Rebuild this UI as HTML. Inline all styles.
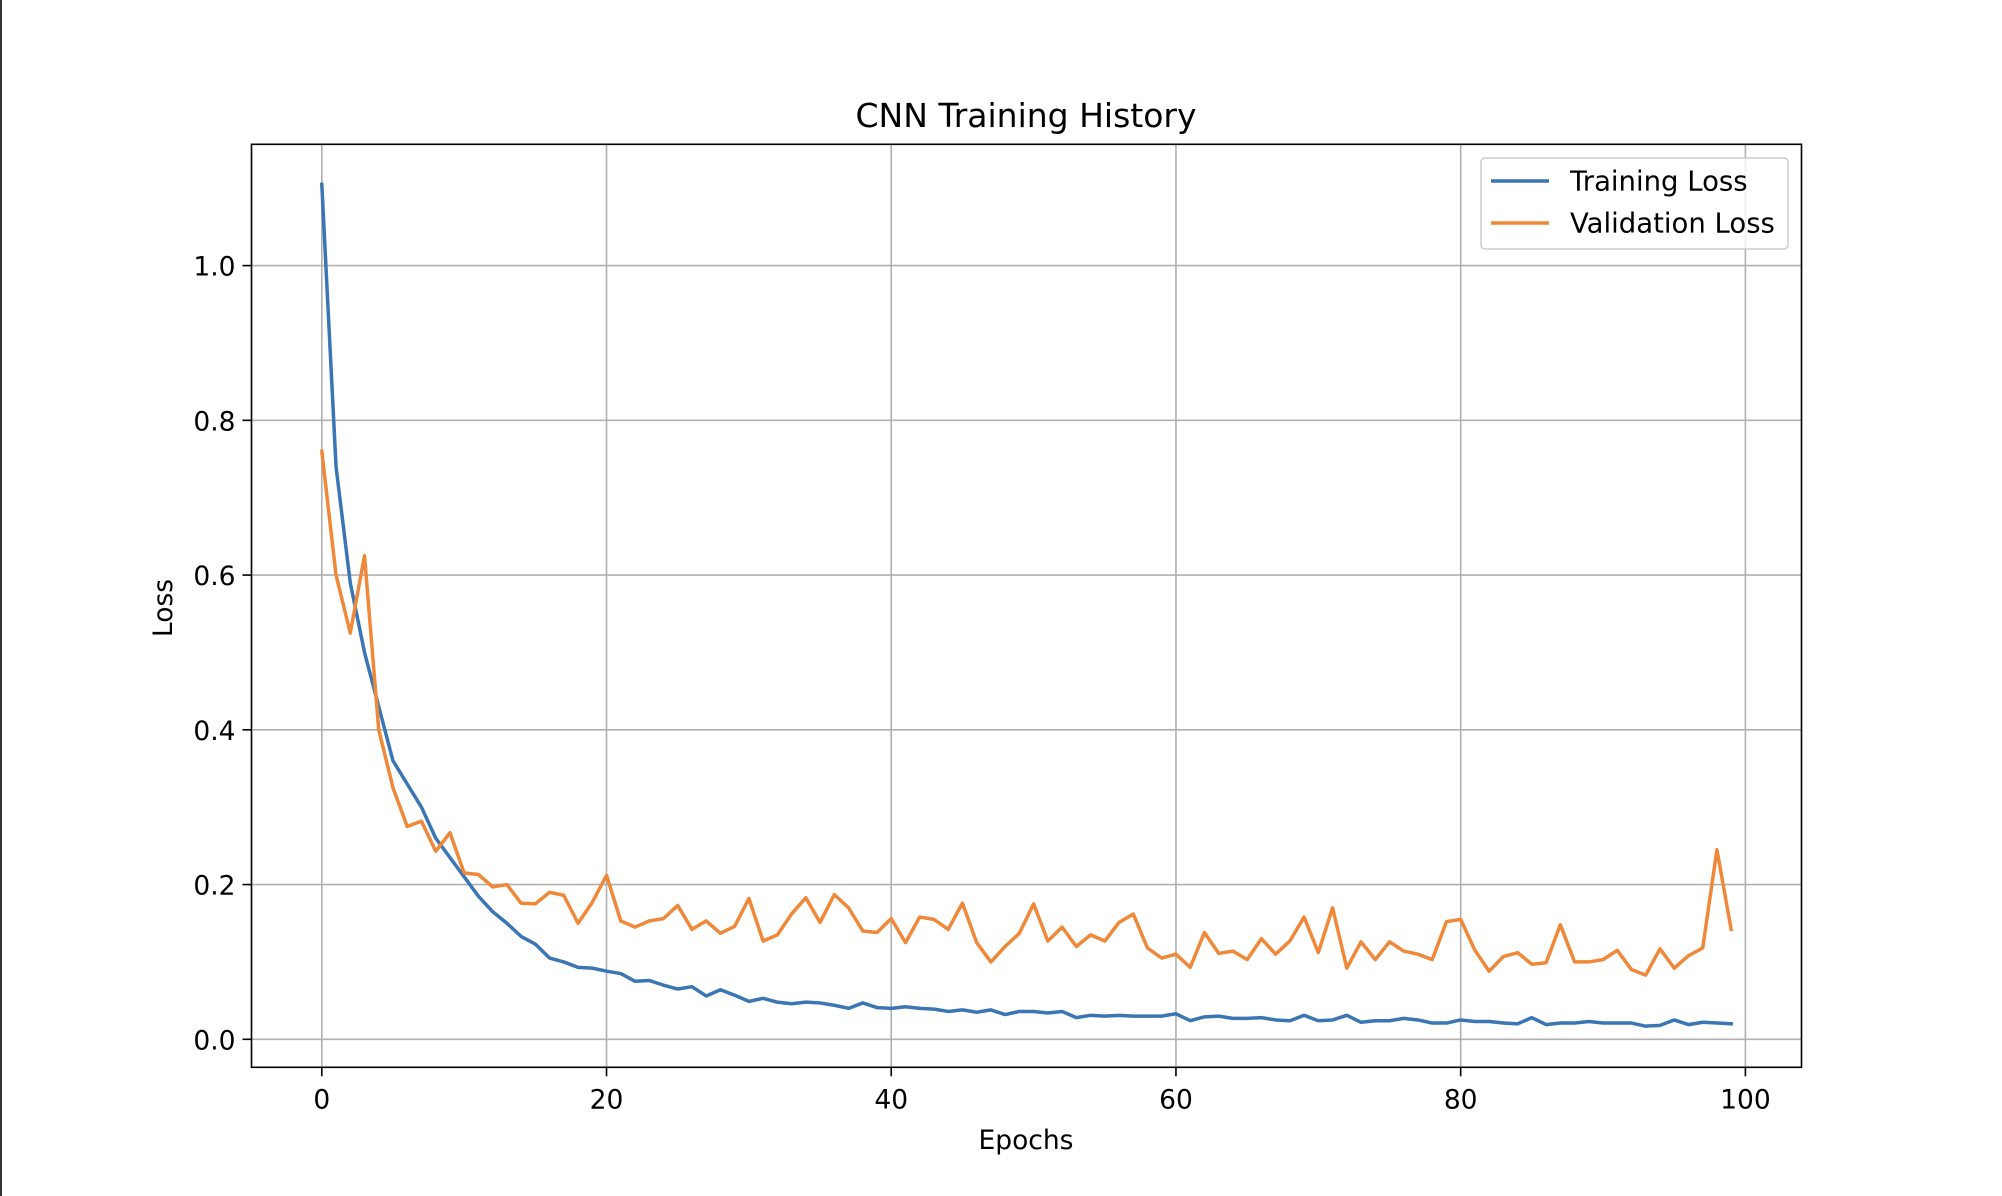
<!DOCTYPE html>
<html><head><meta charset="utf-8"><style>
html,body{margin:0;padding:0;background:#fff;}
svg{display:block;font-family:"DejaVu Sans","Liberation Sans",sans-serif;}
</style></head><body>
<svg id="chart" width="2002" height="1196" viewBox="0 0 2002 1196">
<rect x="0" y="0" width="2" height="1196" fill="#333"/>
<g id="grid"></g>
<g id="series"></g>
<rect x="251.5" y="144.3" width="1550" height="923" fill="none" stroke="#000" stroke-width="1.6"/>
<g id="ticks"></g>
<text x="1026" y="127" font-size="33" text-anchor="middle">CNN Training History</text>
<text x="1026" y="1149" font-size="26.5" text-anchor="middle">Epochs</text>
<text x="0" y="0" font-size="26.5" text-anchor="middle" transform="translate(172,608) rotate(-90)">Loss</text>
<g>
<rect x="1481" y="158" width="307" height="91" rx="4" fill="#fff" fill-opacity="0.8" stroke="#ccc" stroke-width="1.5"/>
<line x1="1491" y1="181" x2="1549" y2="181" stroke="#3a75b4" stroke-width="3.5"/>
<text x="1570" y="190.5" font-size="27.5">Training Loss</text>
<line x1="1491" y1="223" x2="1549" y2="223" stroke="#f0883a" stroke-width="3.5"/>
<text x="1570" y="232.5" font-size="27.5">Validation Loss</text>
</g>
</svg>
<script>
const trainLoss=[1.105,0.74,0.59,0.50,0.43,0.36,0.33,0.30,0.26,0.235,0.21,0.185,0.165,0.15,0.133,0.123,0.105,0.10,0.093,0.092,0.088,0.085,0.075,0.076,0.07,0.065,0.068,0.056,0.064,0.057,0.049,0.053,0.048,0.046,0.048,0.047,0.044,0.04,0.047,0.041,0.04,0.042,0.04,0.039,0.036,0.038,0.035,0.038,0.032,0.036,0.036,0.034,0.036,0.028,0.031,0.03,0.031,0.03,0.03,0.03,0.033,0.024,0.029,0.03,0.027,0.027,0.028,0.025,0.024,0.031,0.024,0.025,0.031,0.022,0.024,0.024,0.027,0.025,0.021,0.021,0.025,0.023,0.023,0.021,0.02,0.028,0.019,0.021,0.021,0.023,0.021,0.021,0.021,0.017,0.018,0.025,0.019,0.022,0.021,0.02];
const valLoss=[0.76,0.60,0.525,0.625,0.40,0.325,0.275,0.282,0.243,0.267,0.215,0.213,0.197,0.2,0.176,0.175,0.19,0.186,0.15,0.177,0.212,0.153,0.145,0.153,0.156,0.173,0.142,0.153,0.137,0.146,0.182,0.127,0.135,0.162,0.183,0.151,0.187,0.17,0.14,0.138,0.156,0.125,0.158,0.155,0.142,0.176,0.125,0.1,0.12,0.137,0.175,0.127,0.145,0.12,0.135,0.127,0.151,0.162,0.118,0.105,0.11,0.093,0.138,0.111,0.114,0.103,0.13,0.11,0.127,0.158,0.112,0.17,0.092,0.126,0.103,0.126,0.114,0.11,0.103,0.152,0.155,0.115,0.088,0.107,0.112,0.097,0.099,0.148,0.1,0.1,0.103,0.115,0.09,0.083,0.117,0.092,0.108,0.118,0.245,0.142];
const xTicks=[0,20,40,60,80,100];
const yTicks=[0.0,0.2,0.4,0.6,0.8,1.0];
const yTickLabels=["0.0","0.2","0.4","0.6","0.8","1.0"];

const L=251.5,R=1801.5,T=144.3,B=1067.3;
const x=v=>321.8+(v)*(1745.4-321.8)/100;
const y=v=>1039.3-v*(1039.3-265.6)/1.0;
const NS="http://www.w3.org/2000/svg";
function mk(tag,attrs,parent){const e=document.createElementNS(NS,tag);for(const k in attrs)e.setAttribute(k,attrs[k]);parent.appendChild(e);return e;}
const grid=document.getElementById('grid'),ticks=document.getElementById('ticks'),series=document.getElementById('series');
xTicks.forEach(t=>{
  const g=mk('line',{x1:x(t),x2:x(t),y1:T,y2:B,stroke:'#b0b0b0','stroke-width':1.6},grid);
  
  
  const tk=mk('line',{x1:x(t),x2:x(t),y1:B,y2:B+9,stroke:'#000','stroke-width':1.6},ticks);
  
  
  const tx=mk('text',{x:x(t),y:B+41,'font-size':26.5,'text-anchor':'middle'},ticks);
  tx.textContent=String(t);
  
  
});
yTicks.forEach((t,i)=>{
  const g=mk('line',{x1:L,x2:R,y1:y(t),y2:y(t),stroke:'#b0b0b0','stroke-width':1.6},grid);
  
  
  const tk=mk('line',{x1:L-9,x2:L,y1:y(t),y2:y(t),stroke:'#000','stroke-width':1.6},ticks);
  
  
  const tx=mk('text',{x:L-16,y:y(t)+10,'font-size':26.5,'text-anchor':'end'},ticks);
  tx.textContent=yTickLabels[i];
  
  
});
function line(data,color,name){
  const pts=data.map((v,i)=>x(i).toFixed(2)+','+y(v).toFixed(2)).join(' ');
  const p=mk('polyline',{points:pts,fill:'none',stroke:color,'stroke-width':3.5,'stroke-linejoin':'round','stroke-linecap':'square'},series);
  
  
}
line(trainLoss,'#3a75b4','training-loss-line');
line(valLoss,'#f0883a','validation-loss-line');
</script>
</body></html>
